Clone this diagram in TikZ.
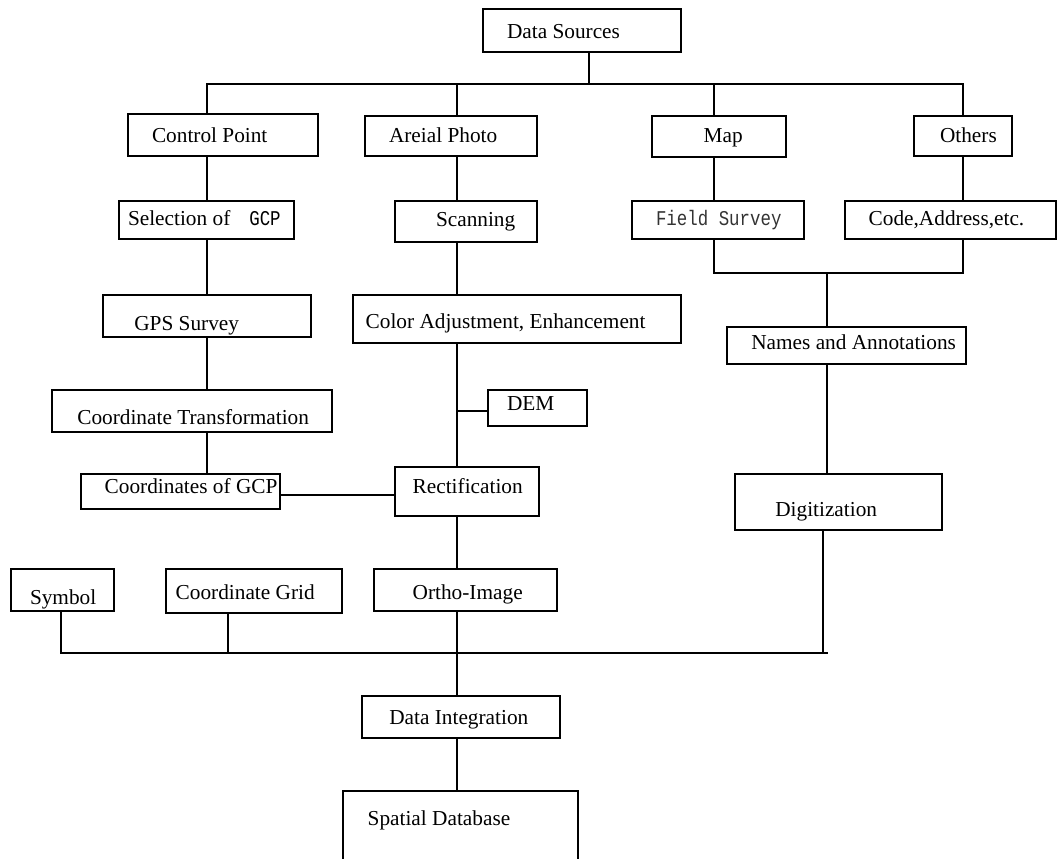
\documentclass[tikz,border=0pt]{standalone}
\usepackage{fontspec}
\setmainfont{Liberation Serif}
\newfontfamily\monofam{Liberation Mono}[FakeStretch=0.83]
% narrow fixed-pitch lettering used for a few labels
\newcommand\monotext[1]{{\fontsize{21}{25}\selectfont\monofam #1}}
% \flowbox{name}{x1}{y1}{x2}{y2}{text x}{baseline y}{text}
% draws a framed box from (x1,y1) to (x2,y2), text starting at "text x" on "baseline y"
\newcommand\flowbox[8]{%
  \pgfmathsetmacro\fbK{2*#7-#3-#5}%
  \pgfmathsetmacro\fbH{max(16,\fbK+5)}%
  \pgfmathsetmacro\fbD{\fbH-\fbK}%
  \pgfmathsetmacro\fbT{\fbH+\fbD}%
  \pgfmathsetmacro\fbW{#4+#2-2*#6}%
  \node[box, minimum width={#4-#2}, minimum height={#5-#3}, inner xsep={#6-#2}] (#1) at (#2,#3)
    {\makebox[\fbW pt][l]{\rule[-\fbD pt]{0pt}{\fbT pt}#8}};%
}
\begin{document}
\begin{tikzpicture}[x=1pt, y=-1pt, line width=1.8pt,
  box/.style={draw, rectangle, anchor=north west, inner ysep=0pt, outer sep=0pt,
    font=\fontsize{21.3}{25}\selectfont}]
\clip (0,0) rectangle (1058,859);

% ---- boxes ----
\flowbox{ds}{483}{9}{681}{52}{507}{38.3}{Data Sources}
\flowbox{cp}{128}{114}{318}{156}{152}{142.7}{Control Point}
\flowbox{ap}{365}{116}{537}{156}{389}{142.7}{Areial Photo}
\flowbox{map}{652}{116}{786}{157}{703.7}{142.7}{Map}
\flowbox{oth}{914}{116}{1012}{156}{940}{142.7}{Others}
\flowbox{sel}{119}{201}{294}{239}{128}{225.3}{Selection of\hspace{19pt}\monotext{GCP}}
\flowbox{scan}{395}{201}{537}{242}{436}{226}{Scanning}
\flowbox{fs}{632}{201}{804}{239}{656}{225.3}{\monotext{\color{black!80}Field Survey}}
\flowbox{code}{845}{201}{1056}{239}{868.7}{225.3}{Code,Address,etc.}
\flowbox{gps}{103}{295}{311}{337}{134.3}{330.7}{GPS Survey}
\flowbox{col}{353}{295}{681}{343}{365.7}{328.3}{Color Adjustment, Enhancement}
\flowbox{ct}{52}{390}{332}{432}{77.3}{424}{Coordinate Transformation}
\flowbox{dem}{488}{390}{587}{426}{507}{410.7}{DEM}
\flowbox{cgcp}{81}{474}{280}{509}{104.7}{493.3}{Coordinates of GCP}
\flowbox{rect}{395}{467}{539}{516}{412.7}{493.3}{Rectification}
\flowbox{na}{727}{327}{966}{364}{751.3}{349.3}{Names and Annotations}
\flowbox{dig}{735}{474}{942}{530}{775.3}{516}{Digitization}
\flowbox{sym}{11}{569}{114}{611}{30}{604}{Symbol}
\flowbox{grid}{166}{569}{342}{613}{175.7}{599}{Coordinate Grid}
\flowbox{ortho}{374}{569}{557}{611}{412.7}{599}{Ortho-Image}
\flowbox{di}{362}{696}{560}{738}{389.3}{724}{Data Integration}
\flowbox{sdb}{343}{791}{578}{900}{367.7}{825}{Spatial Database}

% ---- line positions ----
\coordinate (busTop) at (0,84);
\coordinate (busMid) at (0,273);
\coordinate (busLow) at (0,653);
\coordinate (busLowEnd) at (828,653);
\coordinate (demY) at (0,411);
\coordinate (gcpY) at (0,495);
\coordinate (cDS) at (589,0);
\coordinate (cA) at (207,0);
\coordinate (cB) at (457,0);
\coordinate (cC) at (714,0);
\coordinate (cD) at (963,0);
\coordinate (cE) at (827,0);
\coordinate (cF) at (823,0);
\coordinate (cS) at (61,0);
\coordinate (cG) at (228,0);

% ---- top distribution ----
\draw (cDS |- ds.south) -- (cDS |- busTop);
\draw (cA |- cp.north) -- (cA |- busTop) -- (cD |- busTop) -- (cD |- oth.north);
\draw (cB |- busTop) -- (cB |- ap.north);
\draw (cC |- busTop) -- (cC |- map.north);

% ---- control point chain ----
\draw (cA |- cp.south) -- (cA |- sel.north);
\draw (cA |- sel.south) -- (cA |- gps.north);
\draw (cA |- gps.south) -- (cA |- ct.north);
\draw (cA |- ct.south) -- (cA |- cgcp.north);

% ---- photo chain ----
\draw (cB |- ap.south) -- (cB |- scan.north);
\draw (cB |- scan.south) -- (cB |- col.north);
\draw (cB |- col.south) -- (cB |- rect.north);
\draw (cB |- demY) -- (dem.west |- demY);
\draw (cgcp.east |- gcpY) -- (rect.west |- gcpY);
\draw (cB |- rect.south) -- (cB |- ortho.north);
\draw (cB |- ortho.south) -- (cB |- di.north);
\draw (cB |- di.south) -- (cB |- sdb.north);

% ---- map / others chain ----
\draw (cC |- map.south) -- (cC |- fs.north);
\draw (cD |- oth.south) -- (cD |- code.north);
\draw (cC |- fs.south) -- (cC |- busMid) -- (cD |- busMid) -- (cD |- code.south);
\draw (cE |- busMid) -- (cE |- na.north);
\draw (cE |- na.south) -- (cE |- dig.north);

% ---- collection bus ----
\draw (cS |- sym.south) -- (cS |- busLow) -- (busLowEnd);
\draw (cG |- grid.south) -- (cG |- busLow);
\draw (cF |- dig.south) -- (cF |- busLow);
\end{tikzpicture}
\end{document}
